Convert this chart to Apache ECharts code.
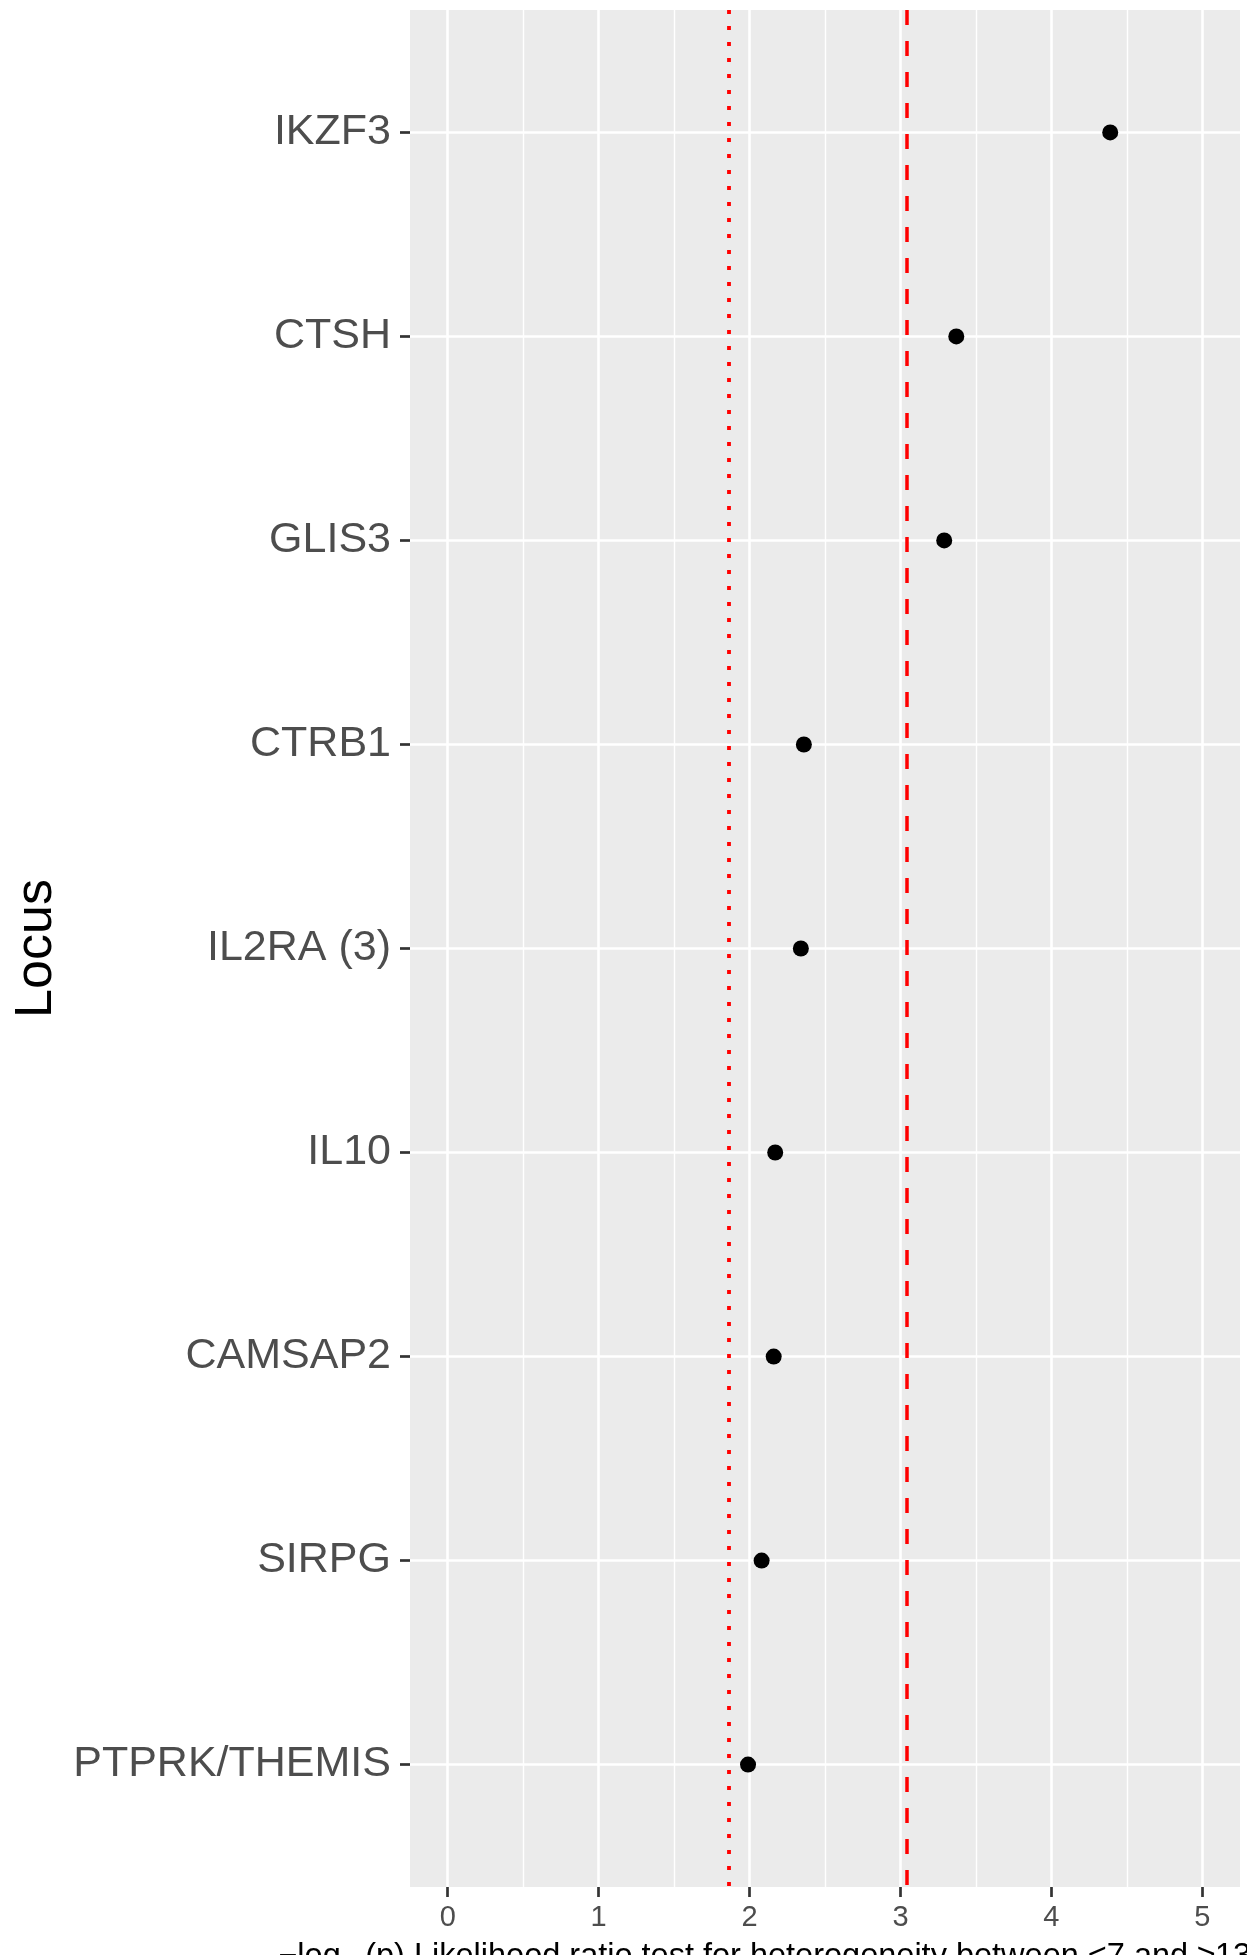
<!DOCTYPE html>
<html>
<head>
<meta charset="utf-8">
<script src="https://cdn.jsdelivr.net/npm/echarts@6/dist/echarts.min.js"></script>
<style>
  html, body { margin: 0; padding: 0; background: #ffffff; }
  #chart { width: 1247px; height: 1955px; }
</style>
</head>
<body>
<div id="chart"></div>
<script>
// Loci, top to bottom as shown
const loci = ["IKZF3", "CTSH", "GLIS3", "CTRB1", "IL2RA (3)", "IL10", "CAMSAP2", "SIRPG", "PTPRK/THEMIS"];
// -log10(p) values
const negLogP = [4.39, 3.37, 3.29, 2.36, 2.34, 2.17, 2.16, 2.08, 1.99];
// threshold lines
const dottedThreshold = [1.857];
const dashedThreshold = [3.041];
// x tick labels
const xTicks = [0, 1, 2, 3, 4, 5];
const xMinorGrid = [0.5, 1.5, 2.5, 3.5, 4.5];
const yPositions = loci.map((_, i) => i + 1);

const FONT = "'Liberation Sans', Arial, Helvetica, sans-serif";
const chart = echarts.init(document.getElementById('chart'), null, { renderer: 'canvas' });

const option = {
  backgroundColor: '#ffffff',
  animation: false,
  grid: {
    left: 410, top: 10, width: 830, height: 1877,
    show: true, backgroundColor: '#EBEBEB', borderWidth: 0,
    containLabel: false, outerBoundsMode: 'none'
  },
  xAxis: [
    {
      type: 'value', min: -0.25, max: 5.25,
      name: '\u2212log\u2081\u2080(p) Likelihood ratio test for heterogeneity between <7 and \u226513 years',
      nameLocation: 'middle', nameGap: 54,
      nameTextStyle: { fontFamily: FONT, fontSize: 32.5, color: '#000000', padding: [0, 32, 0, 0] },
      axisLine: { show: false, onZero: false },
      axisTick: { show: true, length: 10, customValues: xTicks, lineStyle: { color: '#333333', width: 2.7 } },
      axisLabel: { customValues: xTicks, margin: 16, fontFamily: FONT, fontSize: 29, color: '#4D4D4D' },
      splitLine: { show: true, lineStyle: { color: '#ffffff', width: 2.6 } },
      minorTick: { show: false }, minorSplitLine: { show: false }
    },
    {
      type: 'value', min: -0.25, max: 5.25, position: 'bottom',
      axisLine: { show: false, onZero: false },
      axisTick: { show: false, customValues: xMinorGrid },
      axisLabel: { show: false, customValues: xMinorGrid },
      splitLine: { show: true, lineStyle: { color: '#ffffff', width: 1.4 } }
    }
  ],
  yAxis: {
    type: 'value', min: 0.4, max: 9.6, inverse: true, position: 'left',
    name: 'Locus', nameLocation: 'middle', nameGap: 331,
    nameTextStyle: { fontFamily: FONT, fontSize: 52, color: '#000000' },
    axisLine: { show: false, onZero: false },
    axisTick: { show: true, length: 10, customValues: yPositions, lineStyle: { color: '#333333', width: 2.7 } },
    axisLabel: {
      customValues: yPositions, margin: 19, fontFamily: FONT, fontSize: 43, color: '#4D4D4D',
      formatter: function (v) { return loci[Math.round(v) - 1] || ''; }
    },
    splitLine: { show: true, lineStyle: { color: '#ffffff', width: 2.6 } }
  },
  series: [
    {
      type: 'scatter', xAxisIndex: 0, yAxisIndex: 0,
      symbol: 'circle', symbolSize: 16,
      itemStyle: { color: '#000000', opacity: 1 },
      data: loci.map((name, i) => [negLogP[i], i + 1]),
      markLine: {
        silent: true, symbol: ['none', 'none'], animation: false,
        label: { show: false },
        data: [
          { xAxis: dottedThreshold[0], lineStyle: { color: '#FF0000', width: 3.8, type: [4, 12], opacity: 1 } },
          { xAxis: dashedThreshold[0], lineStyle: { color: '#FF0000', width: 3.5, type: [15, 16], opacity: 1 } }
        ]
      },
      z: 5
    }
  ]
};
chart.setOption(option);
</script>
</body>
</html>
